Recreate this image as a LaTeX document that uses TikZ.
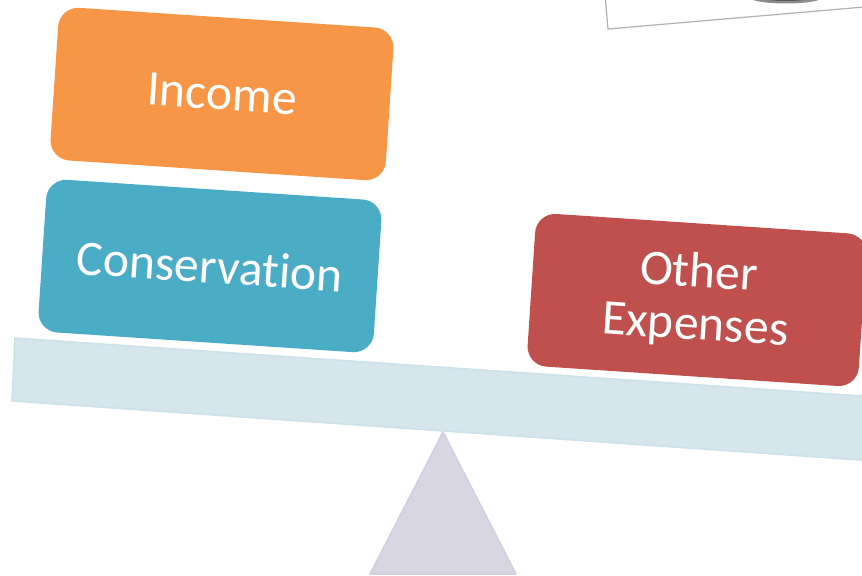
\documentclass[tikz,border=0pt]{standalone}
\usepackage{fontspec}
\setmainfont{Carlito}[Ligatures=NoCommon]
\definecolor{incomeC}{HTML}{F79646}
\definecolor{consC}{HTML}{4BACC6}
\definecolor{otherC}{HTML}{C0504D}
\definecolor{beamC}{HTML}{D5E6EC}
\definecolor{beamL}{HTML}{CEE2EA}
\definecolor{fulcC}{HTML}{D9D6E4}
\definecolor{fulcL}{HTML}{D3CFE2}
\begin{document}
\begin{tikzpicture}[x=1bp,y=-1bp,
  box/.style={rounded corners=20bp, minimum width=336bp, minimum height=153bp,
    text=white, font=\fontsize{50}{53}\selectfont, inner sep=0pt, align=center, rotate=-3.8}]
\useasboundingbox (0,0) rectangle (862,576);
\clip (0,0) rectangle (862,576);
% picture frame top right
\draw[gray!60, line width=1.2bp, fill=white] (605,-5) -- (608,29) -- (870,6.5);
\fill[black!45] (786,-3) ellipse [x radius=37bp, y radius=6.5bp];
\fill[black!65] (786,-4) ellipse [x radius=30bp, y radius=5bp];
% fulcrum
\draw[fulcL, fill=fulcC, line width=1.5bp, line join=round] (443,432) -- (516,574) -- (370,574) -- cycle;
% beam
\draw[beamL, fill=beamC, line width=1.5bp] (15,338) -- (950,402) -- (946,466) -- (12,401) -- cycle;
% boxes
\node[box, fill=incomeC] (income) at (222,94) {Income};
\node[box, fill=consC] (cons) at (210,266) {Conservation};
\node[box, fill=otherC, minimum width=332bp] (other) at (697,300) {Other\\Expenses};
\end{tikzpicture}
\end{document}
